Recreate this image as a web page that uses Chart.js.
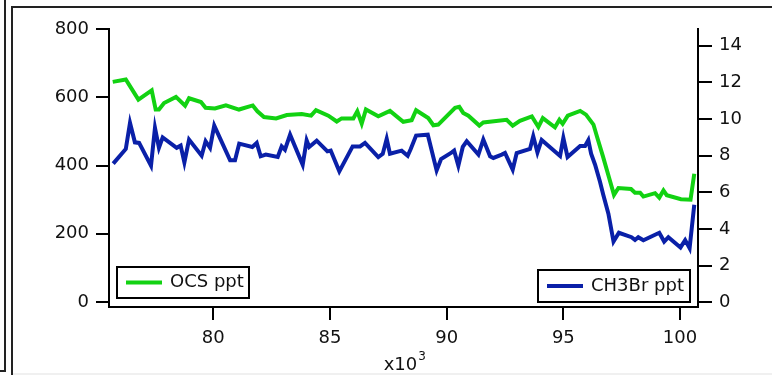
<!DOCTYPE html>
<html>
<head>
<meta charset="utf-8">
<script src="https://cdn.jsdelivr.net/npm/chart.js@4"></script>
<style>
  html, body { margin: 0; padding: 0; background: #fff; }
  #wrap { position: relative; width: 772px; height: 375px; overflow: hidden; }
  #chart { position: absolute; left: 0; top: 0; }
  .rule { position: absolute; background: #222; }
</style>
</head>
<body>
<div id="wrap">
  <canvas id="chart" width="772" height="375"></canvas>
  <!-- window frame lines -->
  <div class="rule" style="left:4px;top:0;width:2px;height:372px"></div>
  <div class="rule" style="left:0;top:370px;width:6px;height:2px"></div>
  <div class="rule" style="left:11px;top:6px;width:2px;height:369px"></div>
  <div class="rule" style="left:11px;top:6px;width:761px;height:2px"></div>
  <div style="position:absolute;left:13px;top:373px;width:759px;height:2px;background:#f0f0f0"></div>
</div>
<script>
// time axis in thousands (x10^3)
const ocsX = [75.69, 76.25, 76.79, 77.36, 77.53, 77.67, 77.89, 78.40, 78.79, 78.96,
  79.47, 79.67, 80.07, 80.54, 81.10, 81.69, 81.89, 82.17, 82.69, 83.15,
  83.79, 84.19, 84.40, 84.93, 85.29, 85.50, 86.00, 86.17, 86.36, 86.54,
  87.07, 87.57, 88.14, 88.50, 88.69, 89.21, 89.43, 89.64, 90.36, 90.54,
  90.71, 90.93, 91.40, 91.57, 92.57, 92.83, 93.14, 93.65, 93.93, 94.12,
  94.64, 94.83, 94.97, 95.19, 95.72, 95.97, 96.29, 96.44, 96.70, 96.96,
  97.17, 97.36, 97.90, 98.07, 98.29, 98.43, 98.93, 99.11, 99.29, 99.43,
  100.04, 100.45, 100.61];
const ocsPpt = [645, 652, 593, 620, 564, 564, 583, 601, 575, 597,
  586, 569, 567, 576, 564, 576, 559, 542, 538, 548,
  551, 546, 562, 546, 529, 538, 538, 559, 523, 564,
  544, 560, 528, 533, 562, 539, 518, 520, 569, 572,
  554, 546, 517, 526, 534, 517, 531, 544, 513, 539,
  512, 534, 522, 546, 560, 549, 520, 485, 426, 364,
  314, 334, 331, 320, 320, 309, 319, 306, 327, 313,
  301, 300, 376];

const ch3brX = [75.71, 76.25, 76.43, 76.64, 76.82, 77.33, 77.50, 77.67, 77.83, 78.43,
  78.60, 78.76, 78.96, 79.50, 79.67, 79.86, 80.04, 80.72, 80.93, 81.11,
  81.67, 81.86, 82.03, 82.25, 82.76, 82.93, 83.07, 83.29, 83.83, 84.00,
  84.11, 84.43, 84.89, 85.03, 85.40, 85.97, 86.29, 86.50, 87.07, 87.26,
  87.43, 87.57, 88.07, 88.33, 88.46, 88.69, 89.19, 89.57, 89.76, 90.22,
  90.32, 90.50, 90.69, 90.86, 91.36, 91.57, 91.86, 92.00, 92.36, 92.50,
  92.83, 93.00, 93.57, 93.71, 93.89, 94.07, 94.86, 95.00, 95.18, 95.72,
  95.93, 96.07, 96.19, 96.36, 96.57, 96.71, 96.93, 97.15, 97.38, 97.92,
  98.07, 98.21, 98.43, 99.11, 99.32, 99.50, 100.02, 100.22, 100.41, 100.61];
const ch3brPpt = [7.56, 8.36, 9.78, 8.72, 8.69, 7.45, 9.51, 8.42, 8.99, 8.42,
  8.54, 7.63, 8.87, 7.99, 8.78, 8.42, 9.63, 7.74, 7.74, 8.65,
  8.47, 8.69, 7.96, 8.05, 7.92, 8.50, 8.32, 9.14, 7.50, 8.83,
  8.47, 8.81, 8.23, 8.27, 7.14, 8.50, 8.50, 8.69, 7.92, 8.09,
  8.91, 8.10, 8.27, 7.99, 8.36, 9.09, 9.14, 7.19, 7.81, 8.17,
  8.27, 7.45, 8.47, 8.78, 8.05, 8.87, 7.96, 7.87, 8.05, 8.14,
  7.23, 8.14, 8.36, 9.05, 8.17, 8.85, 7.98, 8.96, 7.92, 8.52,
  8.52, 8.84, 8.10, 7.50, 6.57, 5.86, 4.83, 3.31, 3.79, 3.55,
  3.40, 3.55, 3.38, 3.79, 3.31, 3.55, 2.99, 3.39, 2.95, 5.32];

const xTicks = [80, 85, 90, 95, 100];
const ocsTicks = [0, 200, 400, 600, 800];
const ch3brTicks = [0, 2, 4, 6, 8, 10, 12, 14];

const GREEN = '#12d212';
const BLUE = '#0a20a8';
const FONT = 'DejaVu Sans';

const pts = (xs, ys) => xs.map((x, i) => ({ x: x, y: ys[i] }));
const fixTicks = list => scale => { scale.ticks = list.map(v => ({ value: v })); };

// boxed keys, one per trace
const keyBoxes = [
  { ds: 0, x: 117, y: 267, w: 132, h: 31 },
  { ds: 1, x: 538, y: 270, w: 152, h: 32 }
];

const decorations = {
  id: 'decorations',
  afterDraw(chart) {
    const ctx = chart.ctx;
    ctx.save();
    keyBoxes.forEach(k => {
      const ds = chart.data.datasets[k.ds];
      const cy = k.y + k.h / 2;
      ctx.fillStyle = '#fff';
      ctx.fillRect(k.x, k.y, k.w, k.h);
      ctx.strokeStyle = '#000';
      ctx.lineWidth = 2;
      ctx.strokeRect(k.x, k.y, k.w, k.h);
      ctx.strokeStyle = ds.borderColor;
      ctx.lineWidth = 4;
      ctx.beginPath();
      ctx.moveTo(k.x + 9, cy);
      ctx.lineTo(k.x + 45, cy);
      ctx.stroke();
      ctx.fillStyle = '#111';
      ctx.font = '18px "' + FONT + '"';
      ctx.textBaseline = 'middle';
      ctx.textAlign = 'left';
      ctx.fillText(ds.label, k.x + 53, cy);
    });

    // axis multiplier under the time axis
    const xs = chart.scales.x;
    const mid = (xs.left + xs.right) / 2;
    ctx.font = '18px "' + FONT + '"';
    ctx.textBaseline = 'alphabetic';
    const w = ctx.measureText('x10').width;
    ctx.fillStyle = '#111';
    ctx.fillText('x10', mid - w / 2 - 3, 370);
    ctx.font = '12px "' + FONT + '"';
    ctx.fillText('3', mid + w / 2 - 2, 360);
    ctx.restore();
  }
};

const axisGrid = len => ({ drawOnChartArea: false, drawTicks: true, tickLength: len, color: '#000', lineWidth: 2 });
const axisBorder = { display: true, color: '#000', width: 2 };
const tickFont = { family: FONT, size: 18 };

new Chart(document.getElementById('chart'), {
  type: 'line',
  data: {
    datasets: [
      { label: 'OCS ppt', data: pts(ocsX, ocsPpt), yAxisID: 'yL',
        borderColor: GREEN, borderWidth: 4, pointRadius: 0, tension: 0 },
      { label: 'CH3Br ppt', data: pts(ch3brX, ch3brPpt), yAxisID: 'yR',
        borderColor: BLUE, borderWidth: 4, pointRadius: 0, tension: 0 }
    ]
  },
  options: {
    responsive: false,
    animation: false,
    devicePixelRatio: 1,
    layout: { padding: { top: 29, left: 0, right: 0, bottom: 0 } },
    plugins: { legend: { display: false }, tooltip: { enabled: false } },
    scales: {
      x: {
        type: 'linear', position: 'bottom', min: 75.53, max: 100.77,
        afterBuildTicks: fixTicks(xTicks),
        afterFit: s => { s.height = 68; },
        grid: axisGrid(13), border: axisBorder,
        ticks: { font: tickFont, color: '#111', padding: 8, maxRotation: 0 }
      },
      yL: {
        type: 'linear', position: 'left', min: -14.6, max: 800,
        afterBuildTicks: fixTicks(ocsTicks),
        afterFit: s => { s.width = 109; },
        grid: axisGrid(13), border: axisBorder,
        ticks: { font: tickFont, color: '#111', padding: 7 }
      },
      yR: {
        type: 'linear', position: 'right', min: -0.257, max: 14.9,
        afterBuildTicks: fixTicks(ch3brTicks),
        afterFit: s => { s.width = 74; },
        grid: axisGrid(14), border: axisBorder,
        ticks: { font: tickFont, color: '#111', padding: 7 }
      }
    }
  },
  plugins: [decorations]
});
</script>
</body>
</html>
